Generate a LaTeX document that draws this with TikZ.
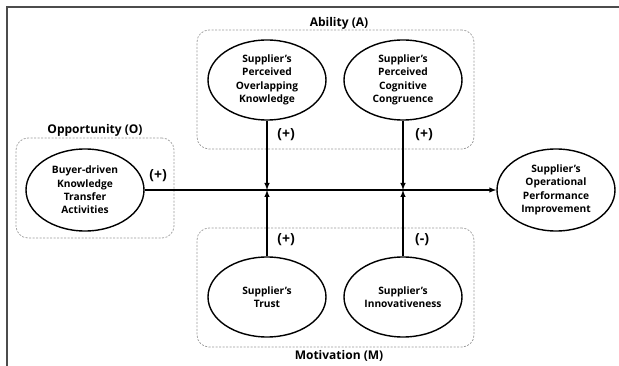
\documentclass[tikz,border=0pt]{standalone}
\usepackage{fontspec}
\setmainfont{Open Sans}
\usetikzlibrary{arrows,shapes,positioning,calc}

\begin{document}
\begin{tikzpicture}
[x=1pt,y=-1pt,
construct/.style={shape=ellipse,draw=black,line width=1.4pt,inner sep=0pt,
  minimum width=118pt,minimum height=80pt,align=center,
  font=\fontsize{10.2}{13.4}\selectfont\bfseries},
group/.style={draw=gray!80,dashed,dash pattern=on 2pt off 1.5pt,rounded corners=12pt,
  line width=0.7pt,inner sep=0pt},
grouplabel/.style={font=\fontsize{12}{13}\selectfont\bfseries},
sign/.style={font=\fontsize{14}{15}\selectfont\bfseries},
myedge/.style={line width=1.4pt,-latex}]
\useasboundingbox (0,0) rectangle (619,366);
\draw[gray!60!black,line width=2pt] (7,366) -- (7,7) -- (619,7);
%% groups
\node (abil) [group,minimum width=277pt,minimum height=119pt] at (335.5,89.5) {};
\node (oppo) [group,minimum width=158pt,minimum height=100pt] at (95,188) {};
\node (moti) [group,minimum width=277pt,minimum height=119pt] at (335.5,287.5) {};
\node [grouplabel] at (339,23) {Ability (A)};
\node [grouplabel] at (95,130) {Opportunity (O)};
\node [grouplabel] at (339,356) {Motivation (M)};
%% constructs
\node (bkt) [construct,fill=white,minimum height=82pt] at (85,190) {Buyer-driven\\Knowledge\\Transfer\\Activities};
\node (spok) [construct,fill=white] at (267,80) {Supplier's\\Perceived\\Overlapping\\Knowledge};
\node (spcc) [construct,fill=white] at (403,80) {Supplier's\\Perceived\\Cognitive\\Congruence};
\node (trust) [construct,fill=white] at (267,297) {Supplier's\\Trust};
\node (innov) [construct,fill=white] at (403,297) {Supplier's\\Innovativeness};
\node (sopi) [construct,fill=white,minimum height=82pt] at (556,190) {Supplier's\\Operational\\Performance\\Improvement};
%% paths
\coordinate (j1) at (spok |- bkt);
\coordinate (j2) at (spcc |- bkt);
\draw[myedge] (bkt) -- (sopi);
\draw[myedge] (spok) -- (j1);
\draw[myedge] (spcc) -- (j2);
\draw[myedge] (trust) -- (j1);
\draw[myedge] (innov) -- (j2);
\node [sign] at (158,176) {(+)};
\node [sign] at (286,135) {(+)};
\node [sign] at (424,135) {(+)};
\node [sign] at (286,240) {(+)};
\node [sign] at (422,240) {(-)};
\end{tikzpicture}
\end{document}
